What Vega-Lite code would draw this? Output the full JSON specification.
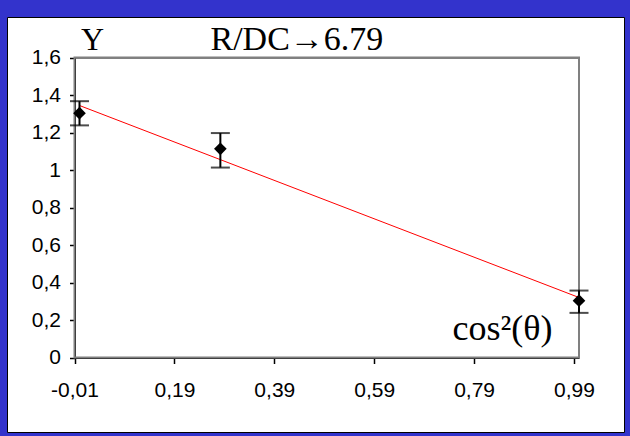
{
  "$schema": "https://vega.github.io/schema/vega-lite/v6.json",
  "width": 617,
  "height": 415,
  "autosize": {"type": "none"},
  "padding": {"left": 7, "top": 17, "right": 6, "bottom": 4},
  "background": "#3333cc",
  "datasets": {
    "points": [
      {"x": 0.0, "y": 1.303, "lo": 1.238, "hi": 1.367},
      {"x": 0.282, "y": 1.113, "lo": 1.013, "hi": 1.197},
      {"x": 1.0, "y": 0.303, "lo": 0.238, "hi": 0.357}
    ],
    "fit": [
      {"x": 0.0, "y": 1.344},
      {"x": 1.0, "y": 0.32}
    ],
    "frame": [
      {"x1": -0.01, "x2": 1.0, "y1": 0, "y2": 1.6}
    ]
  },
  "resolve": {"axis": {"x": "independent"}},
  "layer": [
    {
      "data": {"name": "frame"},
      "mark": {"type": "rect", "fill": null, "stroke": "#808080", "strokeWidth": 2},
      "encoding": {
        "x": {"field": "x1", "type": "quantitative",
          "scale": {"domain": [-0.01, 1.0], "range": [67.5, 572], "nice": false, "zero": false},
          "axis": {
            "orient": "bottom",
            "offset": -74.5,
            "values": [-0.01, 0.19, 0.39, 0.59, 0.79, 0.99],
            "format": ".2f",
            "labelFlush": false,
            "tickSize": 6,
            "labelPadding": 16,
            "title": "cos²(θ)",
            "titleFontSize": 36,
            "titleAlign": "center",
            "titleAnchor": null,
            "titleX": 495,
            "titleY": -18.5
          }
        },
        "x2": {"field": "x2"},
        "y": {"field": "y1", "type": "quantitative",
          "scale": {"domain": [0, 1.6], "range": [340.5, 40.5], "nice": false, "zero": false},
          "axis": {"values": [0, 0.2, 0.4, 0.6, 0.8, 1.0, 1.2, 1.4, 1.6], "title": "Y"}
        },
        "y2": {"field": "y2"}
      }
    },
    {
      "data": {"name": "fit"},
      "mark": {"type": "line", "color": "#ff0000", "strokeWidth": 1},
      "encoding": {
        "x": {"field": "x", "type": "quantitative",
          "axis": {
            "orient": "top",
            "offset": -40.5,
            "domainColor": "#808080",
            "domainWidth": 2,
            "ticks": false,
            "labels": false,
            "title": "R/DC→6.79",
            "titleFontSize": 34,
            "titleAlign": "left",
            "titleAnchor": null,
            "titleX": 203,
            "titleY": -8.5
          }
        },
        "y": {"field": "y", "type": "quantitative",
          "axis": {"values": [0, 0.2, 0.4, 0.6, 0.8, 1.0, 1.2, 1.4, 1.6], "title": "Y"}}
      }
    },
    {
      "data": {"name": "points"},
      "mark": {"type": "rule", "color": "black", "strokeWidth": 2},
      "encoding": {
        "x": {"field": "x", "type": "quantitative", "axis": null},
        "y": {"field": "lo", "type": "quantitative",
          "axis": {"values": [0, 0.2, 0.4, 0.6, 0.8, 1.0, 1.2, 1.4, 1.6], "title": "Y"}},
        "y2": {"field": "hi"}
      }
    },
    {
      "data": {"name": "points"},
      "mark": {"type": "tick", "orient": "horizontal", "color": "black", "size": 19, "thickness": 2},
      "encoding": {
        "x": {"field": "x", "type": "quantitative", "axis": null},
        "y": {"field": "lo", "type": "quantitative",
          "axis": {"values": [0, 0.2, 0.4, 0.6, 0.8, 1.0, 1.2, 1.4, 1.6], "title": "Y"}}
      }
    },
    {
      "data": {"name": "points"},
      "mark": {"type": "tick", "orient": "horizontal", "color": "black", "size": 19, "thickness": 2},
      "encoding": {
        "x": {"field": "x", "type": "quantitative", "axis": null},
        "y": {"field": "hi", "type": "quantitative",
          "axis": {"values": [0, 0.2, 0.4, 0.6, 0.8, 1.0, 1.2, 1.4, 1.6], "title": "Y"}}
      }
    },
    {
      "data": {"name": "points"},
      "mark": {"type": "point", "shape": "diamond", "filled": true, "color": "black", "size": 160, "opacity": 1},
      "encoding": {
        "x": {"field": "x", "type": "quantitative", "axis": null},
        "y": {"field": "y", "type": "quantitative",
          "axis": {"values": [0, 0.2, 0.4, 0.6, 0.8, 1.0, 1.2, 1.4, 1.6], "title": "Y"}}
      }
    }
  ],
  "config": {
    "locale": {
      "number": {
        "decimal": ",",
        "thousands": " ",
        "grouping": [3],
        "currency": ["", ""],
        "minus": "-"
      }
    },
    "view": {"fill": "white", "stroke": "black", "strokeWidth": 1},
    "axis": {
      "labelOverlap": false,
      "grid": false,
      "zindex": 2,
      "domainColor": "black",
      "domainWidth": 2,
      "tickColor": "black",
      "tickWidth": 1.5,
      "labelFont": "Liberation Sans",
      "labelFontSize": 21,
      "labelColor": "black",
      "titleFont": "Liberation Serif",
      "titleFontWeight": "normal",
      "titleColor": "black",
      "titleBaseline": "alphabetic"
    },
    "axisY": {
      "orient": "left",
      "offset": -67.5,
      "format": ".1~f",
      "labelFlush": false,
      "tickSize": 5,
      "labelPadding": 9,
      "titleFontSize": 32,
      "titleAngle": 0,
      "titleAlign": "left",
      "titleAnchor": null,
      "titleX": 6,
      "titleY": 32
    }
  }
}
